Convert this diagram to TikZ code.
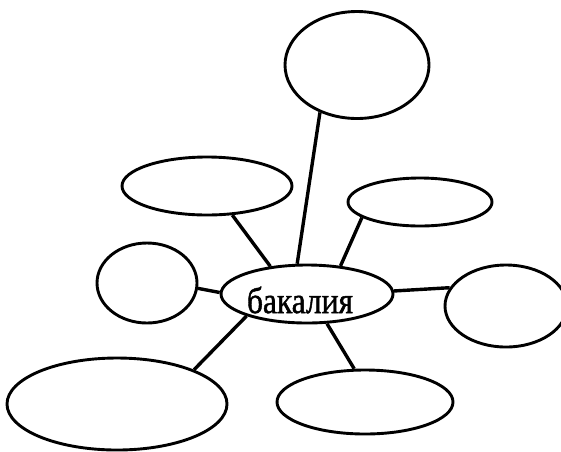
\documentclass[tikz,border=0pt]{standalone}
\usepackage{fontspec}
\setmainfont{Liberation Serif}[FakeStretch=0.85,FakeBold=1.2]
\usetikzlibrary{shapes.geometric}

\begin{document}
\begin{tikzpicture}[
    x=1pt, y=-1pt,
    bubble/.style={
        ellipse,
        draw=black,
        line width=2.9pt,
        inner sep=0pt
    },
    spoke/.style={
        line width=3.4pt
    }
]
    \useasboundingbox (0,0) rectangle (561,451);

    % =========================================================
    % CENTRAL WORD
    % =========================================================
    \node [bubble, minimum width=172pt, minimum height=58pt] (hub) at (307,294) {};
    \node [font=\fontsize{37}{40}\selectfont, inner sep=0pt] (hubtext) at (300,300) {бакалия};

    % =========================================================
    % EMPTY BUBBLES AROUND IT
    % =========================================================
    \node [bubble, minimum width=144pt, minimum height=107pt] (bubble1) at (357,65) {};
    \node [bubble, minimum width=170pt, minimum height=58pt] (bubble2) at (207,186) {};
    \node [bubble, minimum width=144pt, minimum height=48pt] (bubble3) at (420,202) {};
    \node [bubble, minimum width=100pt, minimum height=80pt] (bubble4) at (147,283) {};
    \node [bubble, minimum width=122pt, minimum height=82pt] (bubble5) at (506,306) {};
    \node [bubble, minimum width=220pt, minimum height=92pt] (bubble6) at (117,404) {};
    \node [bubble, minimum width=176pt, minimum height=64pt] (bubble7) at (365,402) {};

    % =========================================================
    % SPOKES
    % =========================================================
    \draw [spoke] (hub.108) -- (bubble1.232);
    \draw [spoke] (hub.143) -- (bubble2.311);
    \draw [spoke] (hub.40) -- (bubble3.195);
    \draw [spoke] (hub.179) -- (bubble4.354);
    \draw [spoke] (hub.2) -- (bubble5.162);
    \draw [spoke] (hub.200) -- (bubble6.24);
    \draw [spoke] (hub.304) -- (bubble7.108);

\end{tikzpicture}
\end{document}
